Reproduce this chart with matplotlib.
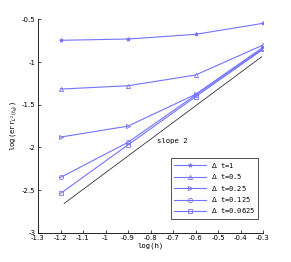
import matplotlib
matplotlib.use("Agg")
import matplotlib.pyplot as plt
import numpy as np

log_h = [-1.2, -0.9, -0.6, -0.3]
err_dt1 = [-0.744, -0.729, -0.674, -0.545]
err_dt05 = [-1.316, -1.277, -1.151, -0.80]
err_dt025 = [-1.879, -1.75, -1.378, -0.826]
err_dt0125 = [-2.352, -1.94, -1.386, -0.84]
err_dt00625 = [-2.54, -1.97, -1.406, -0.85]
labels = [r"$\Delta$ t=1", r"$\Delta$ t=0.5", r"$\Delta$ t=0.25",
          r"$\Delta$ t=0.125", r"$\Delta$ t=0.0625"]
markers = ['*', '^', '>', 'o', 's']

slope_x = [-1.184, -0.306]
slope_y = [-2.657, -0.937]

fig = plt.figure(figsize=(2.91, 2.62), dpi=100)
ax = fig.add_axes([0.1306, 0.1118, 0.7732, 0.8138])

blue = (0.45, 0.45, 1.0)
series = [err_dt1, err_dt05, err_dt025, err_dt0125, err_dt00625]
for i, s in enumerate(series):
    ax.plot(log_h, s, color=blue, lw=0.8, marker=markers[i],
            ms=3, mfc=blue if i == 0 else 'none', mew=0.6, label=labels[i])
ax.plot(slope_x, slope_y, color='#333333', lw=0.6)
ax.text(-0.77, -1.95, "slope 2", family='monospace', fontsize=5.2)

ax.set_xlim(-1.3, -0.3)
ax.set_ylim(-3, -0.5)
ax.set_xticks(np.arange(-1.3, -0.25, 0.1))
ax.set_xticklabels(['-1.3', '-1.2', '-1.1', '-1', '-0.9', '-0.8', '-0.7',
                    '-0.6', '-0.5', '-0.4', '-0.3'])
ax.set_yticks([-3, -2.5, -2, -1.5, -1, -0.5])
ax.set_yticklabels(['-3', '-2.5', '-2', '-1.5', '-1', '-0.5'])
ax.tick_params(direction='in', labelsize=5, length=2, width=0.5, pad=2)
for side in ['top', 'right']:
    ax.spines[side].set_visible(False)
for side in ['left', 'bottom']:
    ax.spines[side].set_linewidth(0.6)
ax.set_xlabel("log(h)", family='monospace', fontsize=5.2, labelpad=1)
ax.set_ylabel(r"log(err$_{L^2(t_N)}$)", family='monospace', fontsize=5.2, labelpad=2)

leg = ax.legend(loc='lower right', bbox_to_anchor=(0.995, 0.05),
                prop={'family': 'monospace', 'size': 5}, fancybox=False,
                edgecolor='k', handlelength=4.5, borderpad=0.45, labelspacing=0.35)
leg.get_frame().set_linewidth(0.6)

fig.savefig("out.png", dpi=100)
